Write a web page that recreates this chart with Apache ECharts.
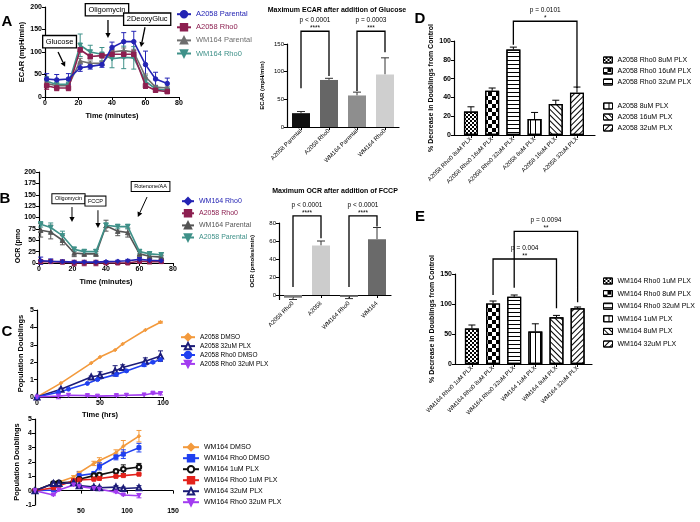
<!DOCTYPE html>
<html>
<head>
<meta charset="utf-8">
<script src="https://cdn.jsdelivr.net/npm/echarts@6/dist/echarts.min.js"></script>
<style>
  html, body { margin: 0; padding: 0; background: #fff; }
  #chart { width: 700px; height: 522px; }
</style>
</head>
<body>
<div id="chart"></div>
<script>
const FONT = '"Liberation Sans", Arial, Helvetica, sans-serif';

// ---- Panel A: ECAR time course ----
const ecarTimes = [1, 7, 14, 21, 27, 34, 40, 47, 53, 60, 66, 73];
const ecarA2058Parental = [40, 38, 40, 65, 68, 72, 110, 123, 123, 72, 40, 30];
const ecarA2058ParentalErr = [12, 12, 12, 8, 6, 6, 12, 20, 23, 30, 15, 12];
const ecarA2058Rho0 = [25, 20, 20, 105, 90, 92, 95, 95, 95, 25, 15, 12];
const ecarA2058Rho0Err = [8, 6, 6, 5, 5, 5, 8, 8, 8, 6, 4, 4];
const ecarWM164Parental = [30, 25, 25, 80, 75, 75, 100, 103, 100, 45, 22, 20];
const ecarWM164ParentalErr = [6, 5, 5, 6, 5, 5, 6, 6, 6, 6, 4, 4];
const ecarWM164Rho0 = [35, 28, 28, 115, 100, 95, 85, 88, 87, 35, 18, 15];
const ecarWM164Rho0Err = [10, 8, 8, 25, 15, 15, 20, 25, 25, 12, 5, 5];

// ---- Panel A: max ECAR bars ----
const ecarBarCats = ["A2058 Parental", "A2058 Rho0", "WM164 Parental", "WM164 Rho0"];
const ecarBarValues = [25, 85, 57, 95];
const ecarBarErr = [3, 3, 6, 30];

// ---- Panel B: OCR time course ----
const ocrTimes = [1, 7, 14, 21, 27, 34, 40, 47, 53, 60, 66, 73];
const ocrWM164Rho0 = [5, 4, 3, 2, 2, 2, 3, 4, 5, 8, 6, 5];
const ocrWM164Rho0Err = [8, 5, 4, 2, 2, 2, 2, 2, 3, 4, 4, 4];
const ocrA2058Rho0 = [3, 3, 2, 0, 0, 0, 0, 0, 0, 4, 3, 3];
const ocrA2058Rho0Err = [4, 4, 4, 6, 6, 6, 3, 3, 3, 5, 5, 4];
const ocrWM164Parental = [72, 68, 50, 22, 20, 20, 82, 70, 67, 20, 15, 13];
const ocrWM164ParentalErr = [15, 15, 10, 8, 5, 5, 12, 10, 10, 5, 4, 4];
const ocrA2058Parental = [85, 78, 60, 30, 25, 25, 83, 80, 80, 25, 20, 18];
const ocrA2058ParentalErr = [6, 10, 10, 5, 5, 5, 5, 5, 5, 5, 5, 5];

// ---- Panel B: max OCR bars ----
const ocrBarCats = ["A2058 Rho0", "A2058", "WM164 Rho0", "WM164"];
const ocrBarValues = [-3, 55, -2, 62];
const ocrBarErr = [2, 5, 2, 13];

// ---- Panel C: population doublings, A2058 ----
const a2058Hours = [0, 19, 43, 50, 62, 68, 86, 98];
const a2058Dmso = [0, 0.8, 1.95, 2.3, 2.7, 3.05, 3.85, 4.3];
const a2058DmsoErr = [0, 0, 0, 0, 0, 0, 0, 0.05];
const a2058Plx32 = [0, 0.45, 1.15, 1.25, 1.5, 1.7, 2.05, 2.35];
const a2058Plx32Err = [0, 0.05, 0.05, 0.2, 0.3, 0.15, 0.2, 0.3];
const a2058Rho0Hours = [0, 17, 25, 40, 48, 63, 71, 85, 92, 98];
const a2058Rho0Dmso = [0, 0.27, 0.45, 0.78, 1.0, 1.3, 1.5, 1.85, 2.0, 2.15];
const a2058Rho0DmsoErr = [0, 0, 0, 0, 0.05, 0.1, 0.05, 0.1, 0.05, 0.05];
const a2058Rho0Plx32 = [0, 0.05, 0.1, 0.08, 0.05, 0.08, 0.1, 0.12, 0.22, 0.2];
const a2058Rho0Plx32Err = [0, 0.15, 0, 0.03, 0, 0.03, 0, 0, 0.05, 0.08];

// ---- Panel C: population doublings, WM164 ----
const wm164Hours = [0, 20, 26, 42, 48, 64, 70, 88, 96, 113];
const wm164Dmso = [0, 0.5, 0.6, 0.95, 1.25, 1.9, 2.1, 2.65, 3.1, 3.8];
const wm164DmsoErr = [0, 0.05, 0.05, 0.1, 0.1, 0.15, 0.2, 0.2, 0.4, 0.4];
const wm164Rho0Dmso = [0, 0.05, 0.45, 0.6, 1.05, 1.2, 1.7, 2.35, 2.55, 3.0];
const wm164Rho0DmsoErr = [0, 0.05, 0.1, 0.15, 0.25, 0.1, 0.25, 0.2, 0.3, 0.3];
const wm164Plx1 = [0, 0.5, 0.55, 0.6, 0.8, 1.05, 1.1, 1.35, 1.5, 1.65];
const wm164Plx1Err = [0, 0.05, 0.05, 0.1, 0.1, 0.1, 0.1, 0.1, 0.3, 0.25];
const wm164Rho0Plx1 = [0, 0.2, 0.35, 0.7, 0.75, 0.8, 0.85, 1.0, 1.05, 1.15];
const wm164Rho0Plx1Err = [0, 0.05, 0.05, 0.1, 0.05, 0.05, 0.05, 0.05, 0.05, 0.05];
const wm164Plx32 = [0, 0.5, 0.5, 0.55, 0.35, 0.25, 0.2, 0.25, 0.15, 0.2];
const wm164Plx32Err = [0, 0.1, 0.1, 0.1, 0.1, 0.1, 0.1, 0.1, 0.1, 0.15];
const wm164Rho0Plx32 = [0, -0.3, 0.05, 0.4, 0.3, 0.15, 0.1, -0.1, -0.3, -0.35];
const wm164Rho0Plx32Err = [0, 0.05, 0.05, 0.05, 0.05, 0.05, 0.05, 0.05, 0.05, 0.15];

// ---- Panel D / E: % decrease in doublings ----
const dLabels = ["A2058 Rho0 8uM PLX", "A2058 Rho0 16uM PLX", "A2058 Rho0 32uM PLX",
  "A2058 8uM PLX", "A2058 16uM PLX", "A2058 32uM PLX"];
const dValues = [25, 47, 91, 17, 33, 45];
const dErr = [5, 3, 2.5, 7, 4, 6];
const eLabels = ["WM164 Rho0 1uM PLX", "WM164 Rho0 8uM PLX", "WM164 Rho0 32uM PLX",
  "WM164 1uM PLX", "WM164 8uM PLX", "WM164 32uM PLX"];
const eValues = [59, 101, 112, 54, 78, 93];
const eErr = [6, 4, 3, 13, 3, 2];

// colours
const BLUE = "#2424b4", MAROON = "#8c1f50", GRAY = "#6e6e6e", TEAL = "#3f9189";
const ORANGE = "#f39a3d", NAVY = "#1c1c78", BRIGHT = "#2040f0", PURPLE = "#a23cf0", RED = "#e3221b";

// fill patterns for D / E bars
const decals = [
  { symbol: "rect", symbolSize: 1, dashArrayX: [[2, 2], [0, 2, 2, 0]], dashArrayY: [2, 0], color: "#000" },
  { symbol: "rect", symbolSize: 1, dashArrayX: [[4, 4], [0, 4, 4, 0]], dashArrayY: [4, 0], color: "#000" },
  { symbol: "rect", symbolSize: 1, dashArrayX: [1, 0], dashArrayY: [1, 3], color: "#000" },
  { symbol: "rect", symbolSize: 1, dashArrayX: [1, 4], dashArrayY: [1, 0], color: "#000" },
  { symbol: "rect", symbolSize: 1, dashArrayX: [1, 0], dashArrayY: [1, 2.5], rotation: Math.PI / 4, color: "#000" },
  { symbol: "rect", symbolSize: 1, dashArrayX: [1, 0], dashArrayY: [1, 2.5], rotation: -Math.PI / 4, color: "#000" },
];

function axis(extra) {
  const base = {
    axisLine: { show: true, onZero: true, lineStyle: { color: "#000", width: 1.2 } },
    axisTick: { show: true, length: 3, lineStyle: { color: "#000", width: 1 } },
    splitLine: { show: false },
    axisLabel: { color: "#000", fontFamily: FONT, fontSize: 7, fontWeight: "bold", margin: 3,
      hideOverlap: false, showMinLabel: true, showMaxLabel: true },
    nameTextStyle: { color: "#000", fontFamily: FONT, fontSize: 7.5, fontWeight: "bold" },
    nameLocation: "middle",
  };
  const out = Object.assign({}, base, extra);
  ["axisLine", "axisTick", "axisLabel", "nameTextStyle"].forEach((k) => {
    if (extra[k]) out[k] = Object.assign({}, base[k], extra[k]);
  });
  return out;
}

function errRender(color, cap, twoSided) {
  return function (params, api) {
    const x = api.value(0), y = api.value(1), e = api.value(2);
    if (!e) return null;
    const dir = y < 0 ? -1 : 1;
    const hi = api.coord([x, y + dir * e]);
    const lo = api.coord(twoSided ? [x, y - dir * e] : [x, y]);
    const st = { stroke: color, lineWidth: 1 };
    const kids = [
      { type: "line", shape: { x1: hi[0], y1: hi[1], x2: lo[0], y2: lo[1] }, style: st },
      { type: "line", shape: { x1: hi[0] - cap, y1: hi[1], x2: hi[0] + cap, y2: hi[1] }, style: st },
    ];
    if (twoSided) kids.push({ type: "line", shape: { x1: lo[0] - cap, y1: lo[1], x2: lo[0] + cap, y2: lo[1] }, style: st });
    return { type: "group", children: kids };
  };
}

const series = [];
function addLine(name, grid, xs, ys, es, color, symbol, size, extra) {
  series.push(Object.assign({
    type: "line", name, xAxisIndex: grid, yAxisIndex: grid,
    data: xs.map((x, i) => [x, ys[i]]),
    symbol, symbolSize: size, showSymbol: true,
    lineStyle: { color, width: 1.6 }, itemStyle: { color, borderColor: color, borderWidth: 1 },
    emphasis: { disabled: true }, z: 3,
  }, extra || {}));
  series.push({
    type: "custom", name: name + " err", xAxisIndex: grid, yAxisIndex: grid,
    data: xs.map((x, i) => [x, ys[i], es[i]]), encode: { x: 0, y: 1 },
    renderItem: errRender(color, 2.5, true), z: 2, silent: true,
  });
}

// A line
addLine("A2058 Parental", 0, ecarTimes, ecarA2058Parental, ecarA2058ParentalErr, BLUE, "circle", 4.5, { z: 6 });
addLine("WM164 Rho0", 0, ecarTimes, ecarWM164Rho0, ecarWM164Rho0Err, TEAL, "triangle", 4.5, { symbolRotate: 180 });
addLine("WM164 Parental", 0, ecarTimes, ecarWM164Parental, ecarWM164ParentalErr, GRAY, "triangle", 4.5);
addLine("A2058 Rho0", 0, ecarTimes, ecarA2058Rho0, ecarA2058Rho0Err, MAROON, "rect", 4.5, { z: 5 });
// B line
addLine("WM164 Parental#B", 2, ocrTimes, ocrWM164Parental, ocrWM164ParentalErr, "#555", "triangle", 4.5);
addLine("A2058 Parental#B", 2, ocrTimes, ocrA2058Parental, ocrA2058ParentalErr, TEAL, "triangle", 4.5, { symbolRotate: 180, z: 4 });
addLine("A2058 Rho0#B", 2, ocrTimes, ocrA2058Rho0, ocrA2058Rho0Err, MAROON, "rect", 4);
addLine("WM164 Rho0#B", 2, ocrTimes, ocrWM164Rho0, ocrWM164Rho0Err, BLUE, "diamond", 4.5, { z: 5 });
// C top
addLine("A2058 DMSO", 4, a2058Hours, a2058Dmso, a2058DmsoErr, ORANGE, "diamond", 3.5);
addLine("A2058 32uM PLX", 4, a2058Hours, a2058Plx32, a2058Plx32Err, NAVY, "emptyTriangle", 5);
addLine("A2058 Rho0 DMSO", 4, a2058Rho0Hours, a2058Rho0Dmso, a2058Rho0DmsoErr, BRIGHT, "circle", 4);
addLine("A2058 Rho0 32uM PLX", 4, a2058Rho0Hours, a2058Rho0Plx32, a2058Rho0Plx32Err, PURPLE, "triangle", 4, { symbolRotate: 180 });
// C bottom
addLine("WM164 DMSO", 5, wm164Hours, wm164Dmso, wm164DmsoErr, ORANGE, "diamond", 3.5);
addLine("WM164 Rho0 DMSO", 5, wm164Hours, wm164Rho0Dmso, wm164Rho0DmsoErr, BRIGHT, "rect", 4);
addLine("WM164 1uM PLX", 5, wm164Hours, wm164Plx1, wm164Plx1Err, "#111", "emptyCircle", 4.5);
addLine("WM164 Rho0 1uM PLX", 5, wm164Hours, wm164Rho0Plx1, wm164Rho0Plx1Err, RED, "rect", 4);
addLine("WM164 32uM PLX", 5, wm164Hours, wm164Plx32, wm164Plx32Err, NAVY, "emptyTriangle", 5);
addLine("WM164 Rho0 32uM PLX", 5, wm164Hours, wm164Rho0Plx32, wm164Rho0Plx32Err, PURPLE, "triangle", 4, { symbolRotate: 180 });

// A / B bars
const ecarBarColors = ["#111", "#666", "#8e8e8e", "#cfcfcf"];
const ocrBarColors = ["#7a7a7a", "#cccccc", "#555", "#6a6a6a"];
series.push({
  type: "bar", name: "ecarMax", xAxisIndex: 1, yAxisIndex: 1, barWidth: 18,
  data: ecarBarValues.map((v, i) => ({ value: v, itemStyle: { color: ecarBarColors[i] } })),
  emphasis: { disabled: true },
});
series.push({
  type: "custom", name: "ecarMax err", xAxisIndex: 1, yAxisIndex: 1, encode: { x: 0, y: 1 },
  data: ecarBarValues.map((v, i) => [i, v, ecarBarErr[i]]), renderItem: errRender("#333", 4, false), z: 1,
});
series.push({
  type: "bar", name: "ocrMax", xAxisIndex: 3, yAxisIndex: 3, barWidth: 18,
  data: ocrBarValues.map((v, i) => ({ value: v, itemStyle: { color: ocrBarColors[i] } })),
  emphasis: { disabled: true },
});
series.push({
  type: "custom", name: "ocrMax err", xAxisIndex: 3, yAxisIndex: 3, encode: { x: 0, y: 1 },
  data: ocrBarValues.map((v, i) => [i, v, ocrBarErr[i]]), renderItem: errRender("#333", 4, false), z: 1,
});

// D / E bars, one series each so the legend can show the pattern
const patternStyle = (i) => ({ color: "#fff", borderColor: "#000", borderWidth: 1.2, decal: decals[i] });
function addPatternBars(grid, labels, values, errs) {
  labels.forEach((name, i) => {
    series.push({
      type: "bar", name, xAxisIndex: grid, yAxisIndex: grid, barWidth: 14, barGap: "-100%",
      data: [[i + 1, values[i]]],
      color: "#fff",
      itemStyle: patternStyle(i),
      emphasis: { disabled: true },
    });
  });
  series.push({
    type: "custom", name: "err" + grid, xAxisIndex: grid, yAxisIndex: grid, encode: { x: 0, y: 1 },
    data: values.map((v, i) => [i + 1, v, errs[i]]), renderItem: errRender("#000", 3.5, false), z: 4,
  });
}
addPatternBars(6, dLabels, dValues, dErr);
addPatternBars(7, eLabels, eValues, eErr);

const legendText = { fontFamily: FONT, fontSize: 7.5, color: "#000", lineHeight: 8 };
function lineLegend(items, left, top, gap, fontSize, itemW) {
  return {
    data: items.map((it) => ({ name: it[0], textStyle: { color: it[1] } })),
    left, top, orient: "vertical", padding: 0, itemGap: gap, itemWidth: itemW, itemHeight: 8,
    itemTextGap: 3, selectedMode: false,
    formatter: (n) => n.split("#")[0],
    textStyle: Object.assign({}, legendText, { fontSize, lineHeight: 8 }),
  };
}
function barLegend(labels, offset, top, gap) {
  return {
    data: labels.map((name, i) => ({ name, icon: "rect", itemStyle: { color: "#fff", borderColor: "#000", borderWidth: 1, decal: decals[offset + i] } })),
    left: 603, top, orient: "vertical", padding: 0, itemGap: gap,
    itemWidth: 9, itemHeight: 6, itemTextGap: 6, selectedMode: false,
    textStyle: Object.assign({}, legendText, { fontSize: 7, lineHeight: 7 }),
  };
}

const option = {
  animation: false,
  backgroundColor: "#fff",
  textStyle: { fontFamily: FONT },
  grid: [
    { left: 45, top: 7, width: 134, height: 90 },
    { left: 287, top: 44, width: 112, height: 83 },
    { left: 39, top: 172, width: 134, height: 91 },
    { left: 279, top: 223, width: 112, height: 76.5 },
    { left: 37, top: 310, width: 126, height: 87 },
    { left: 35, top: 419, width: 138, height: 86 },
    { left: 454, top: 41, width: 141, height: 94 },
    { left: 455, top: 274, width: 137, height: 90 },
  ].map((g) => Object.assign({ outerBoundsMode: "none", containLabel: false }, g)),
  xAxis: [
    axis({ gridIndex: 0, type: "value", min: 0, max: 80, interval: 20, name: "Time (minutes)", nameGap: 15 }),
    axis({ gridIndex: 1, type: "category", data: ecarBarCats,
      axisTick: { alignWithLabel: true }, axisLabel: { rotate: 45, fontSize: 6, fontWeight: "normal", interval: 0 } }),
    axis({ gridIndex: 2, type: "value", min: 0, max: 80, interval: 20, name: "Time (minutes)", nameGap: 15 }),
    axis({ gridIndex: 3, type: "category", data: ocrBarCats,
      axisTick: { alignWithLabel: true }, axisLabel: { rotate: 45, fontSize: 6, fontWeight: "normal", interval: 0 } }),
    axis({ gridIndex: 4, type: "value", min: 0, max: 100, interval: 50, name: "Time (hrs)", nameGap: 14 }),
    axis({ gridIndex: 5, type: "value", min: 0, max: 150, interval: 50, name: "Time (hrs)", nameGap: 21,
      axisLabel: { formatter: (v) => (v === 0 ? "" : v) } }),
    axis({ gridIndex: 6, type: "value", min: 0.2, max: 6.85,
      axisTick: { customValues: [1, 2, 3, 4, 5, 6] },
      axisLabel: { customValues: [1, 2, 3, 4, 5, 6], formatter: (v) => dLabels[Math.round(v) - 1],
        rotate: 45, fontSize: 6, fontWeight: "normal" } }),
    axis({ gridIndex: 7, type: "value", min: 0.2, max: 6.68,
      axisTick: { customValues: [1, 2, 3, 4, 5, 6] },
      axisLabel: { customValues: [1, 2, 3, 4, 5, 6], formatter: (v) => eLabels[Math.round(v) - 1],
        rotate: 45, fontSize: 6, fontWeight: "normal" } }),
  ],
  yAxis: [
    axis({ gridIndex: 0, type: "value", min: 0, max: 200, interval: 50, name: "ECAR (mpH/min)", nameGap: 19 }),
    axis({ gridIndex: 1, type: "value", min: 0, max: 150, interval: 50, name: "ECAR (mpH/min)", nameGap: 22,
      axisLabel: { fontSize: 6, fontWeight: "normal" }, nameTextStyle: { fontSize: 6 } }),
    axis({ gridIndex: 2, type: "value", min: 0, max: 200, interval: 25 }),
    axis({ gridIndex: 3, type: "value", min: -5, max: 80, name: "OCR (pmoles/min)", nameGap: 24,
      axisTick: { customValues: [0, 20, 40, 60, 80] },
      axisLabel: { customValues: [0, 20, 40, 60, 80], fontSize: 6, fontWeight: "normal" },
      nameTextStyle: { fontSize: 6 } }),
    axis({ gridIndex: 4, type: "value", min: 0, max: 5, interval: 1, name: "Population Doublings", nameGap: 12 }),
    axis({ gridIndex: 5, type: "value", min: -1, max: 5, interval: 1, name: "Population Doublings", nameGap: 14 }),
    axis({ gridIndex: 6, type: "value", min: 0, max: 100, interval: 20,
      name: "% Decrease in Doublings from Control", nameGap: 19, nameTextStyle: { fontSize: 7 } }),
    axis({ gridIndex: 7, type: "value", min: 0, max: 150, interval: 50,
      name: "% Decrease in Doublings from Control", nameGap: 19, nameTextStyle: { fontSize: 7 } }),
  ],
  legend: [
    lineLegend([["A2058 Parental", BLUE], ["A2058 Rho0", MAROON], ["WM164 Parental", GRAY], ["WM164 Rho0", TEAL]],
      176, 10, 4.7, 7.5, 14),
    lineLegend([["WM164 Rho0#B", BLUE], ["A2058 Rho0#B", MAROON], ["WM164 Parental#B", "#555"], ["A2058 Parental#B", TEAL]],
      181, 197, 3.7, 7, 12),
    lineLegend([["A2058 DMSO", "#000"], ["A2058 32uM PLX", "#000"], ["A2058 Rho0 DMSO", "#000"], ["A2058 Rho0 32uM PLX", "#000"]],
      180, 333, 0.5, 6.5, 14),
    lineLegend([["WM164 DMSO", "#000"], ["WM164 Rho0 DMSO", "#000"], ["WM164 1uM PLX", "#000"],
      ["WM164 Rho0 1uM PLX", "#000"], ["WM164 32uM PLX", "#000"], ["WM164 Rho0 32uM PLX", "#000"]],
      182, 443, 2.6, 7, 16),
    barLegend(dLabels.slice(0, 3), 0, 56.5, 4),
    barLegend(dLabels.slice(3), 3, 102.5, 4),
    barLegend(eLabels, 0, 277.5, 5.6),
  ],
  series,
};

const chart = echarts.init(document.getElementById("chart"), null, { renderer: "canvas" });
chart.setOption(option);

// ---- annotations placed in data units ----
const ecarMarkers = [
  { text: "Glucose", box: [8.7, 123], from: [7.8, 100], to: [12, 67] },
  { text: "Oligomycin", box: [37, 194], from: [37.6, 171], to: [37.6, 131] },
  { text: "2DeoxyGluc", box: [61, 173], from: [59.7, 155], to: [57.3, 111] },
];
const ocrMarkers = [
  { text: "Oligomycin", box: [17.6, 141], from: [19.7, 123], to: [19.7, 90] },
  { text: "FCCP", box: [33.7, 136], from: [35.2, 116], to: [35.2, 77] },
  { text: "Rotenone/AA", box: [66.6, 168], from: [64.5, 145], to: [59, 101] },
];
const brackets = [
  { grid: 1, x1: 0, x2: 1, top: 173, y1: 70, y2: 92, p: "p < 0.0001", stars: "****" },
  { grid: 1, x1: 2, x2: 3, top: 173, y1: 65, y2: 135, p: "p = 0.0003", stars: "***" },
  { grid: 3, x1: 0, x2: 1, top: 88, y1: 9, y2: 63, p: "p < 0.0001", stars: "****" },
  { grid: 3, x1: 2, x2: 3, top: 88, y1: 9, y2: 76, p: "p < 0.0001", stars: "****" },
  { grid: 6, x1: 3, x2: 6, top: 121, y1: 96, y2: 50, p: "p = 0.0101", stars: "*" },
  { grid: 7, x1: 3, x2: 6, top: 221, y1: 127, y2: 103, p: "p = 0.0094", stars: "**" },
  { grid: 7, x1: 2, x2: 5, top: 175, y1: 115, y2: 93, p: "p = 0.004", stars: "**" },
];

const gfx = [];
const toPx = (grid, pt) => chart.convertToPixel({ gridIndex: grid }, pt);

function arrow(a, b, w) {
  const dx = b[0] - a[0], dy = b[1] - a[1];
  const len = Math.hypot(dx, dy), ux = dx / len, uy = dy / len;
  const h = 5, hw = 2.6;
  const base = [b[0] - ux * h, b[1] - uy * h];
  gfx.push({ type: "line", shape: { x1: a[0], y1: a[1], x2: base[0], y2: base[1] }, style: { stroke: "#000", lineWidth: w } });
  gfx.push({ type: "polygon", shape: { points: [b, [base[0] - uy * hw, base[1] + ux * hw], [base[0] + uy * hw, base[1] - ux * hw]] },
    style: { fill: "#000" } });
}
function markers(list, grid, fontSize, lw) {
  list.forEach((m) => {
    const c = toPx(grid, m.box);
    gfx.push({ type: "text", x: c[0], y: c[1], z: 10, style: {
      text: m.text, font: `${fontSize}px ${FONT}`, fill: "#000", align: "center", verticalAlign: "middle",
      backgroundColor: "#fff", borderColor: "#000", borderWidth: lw, padding: [1.5, 2.5],
    } });
    arrow(toPx(grid, m.from), toPx(grid, m.to), lw);
  });
}
markers(ecarMarkers, 0, 7.5, 1.3);
markers(ocrMarkers, 2, 5.5, 1);

brackets.forEach((b) => {
  const l = toPx(b.grid, [b.x1, b.y1]), r = toPx(b.grid, [b.x2, b.y2]);
  const t = toPx(b.grid, [b.x1, b.top])[1];
  gfx.push({ type: "polyline", shape: { points: [[l[0], l[1]], [l[0], t], [r[0], t], [r[0], r[1]]] },
    style: { stroke: "#000", lineWidth: 1.3, fill: null } });
  const mid = (l[0] + r[0]) / 2;
  gfx.push({ type: "text", x: mid, y: t - 11, style: { text: b.p, font: `6.5px ${FONT}`, fill: "#000", align: "center", verticalAlign: "middle" } });
  gfx.push({ type: "text", x: mid, y: t - 3, style: { text: b.stars, font: `6.5px ${FONT}`, fill: "#000", align: "center", verticalAlign: "middle" } });
});

function label(text, x, y, font, extra) {
  gfx.push(Object.assign({ type: "text", x, y, style: Object.assign({ text, font, fill: "#000", align: "center", verticalAlign: "middle" }, extra || {}) }));
}
label("A", 7, 22, `bold 15px ${FONT}`);
label("B", 5, 199, `bold 15px ${FONT}`);
label("C", 7, 332, `bold 15px ${FONT}`);
label("D", 420, 19, `bold 15px ${FONT}`);
label("E", 420, 217, `bold 15px ${FONT}`);
label("Maximum ECAR after addition of Glucose", 337, 10, `bold 7px ${FONT}`);
label("Maximum OCR after addition of FCCP", 335, 191, `bold 7px ${FONT}`);
gfx.push({ type: "text", x: 18, y: 246, rotation: Math.PI / 2,
  style: { text: "OCR (pmo", font: `bold 7px ${FONT}`, fill: "#000", align: "center", verticalAlign: "middle" } });

chart.setOption({ graphic: { elements: gfx } });
</script>
</body>
</html>
